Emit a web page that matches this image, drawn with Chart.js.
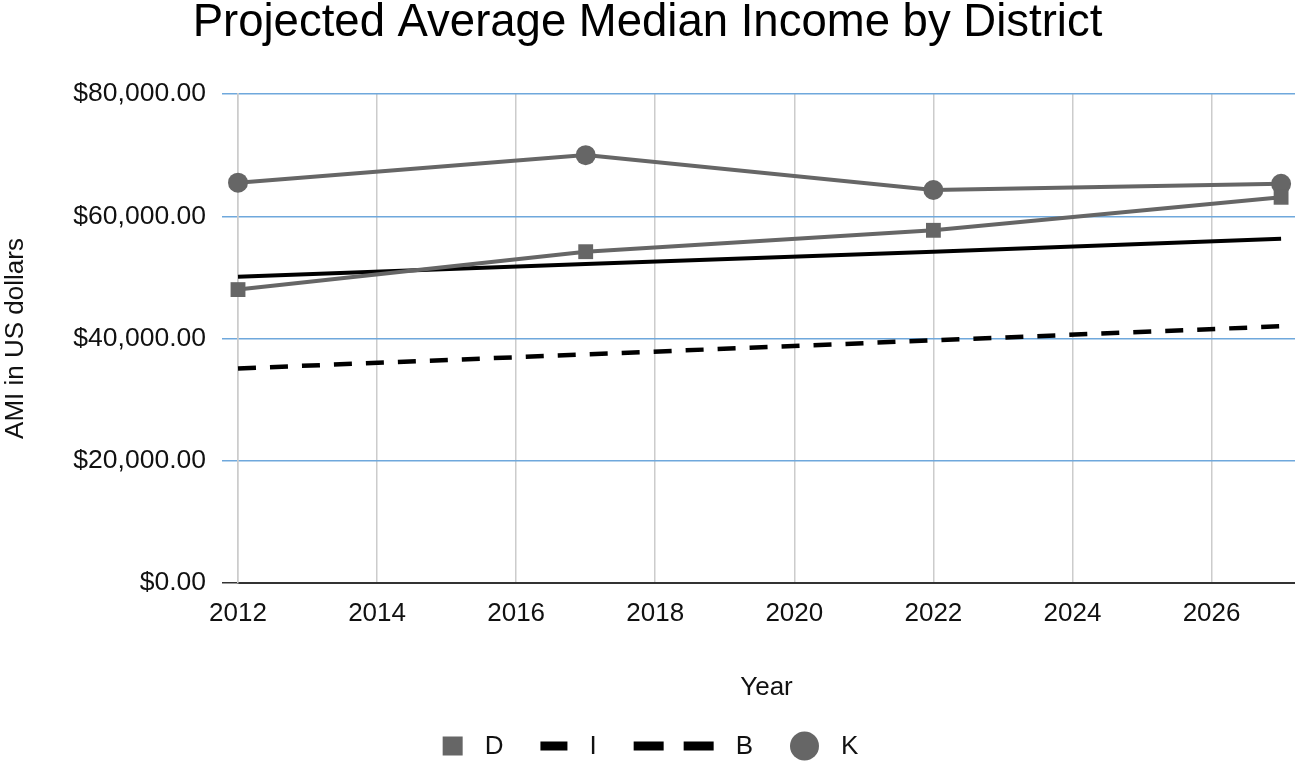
<!DOCTYPE html>
<html><head><meta charset="utf-8">
<script src="https://cdn.jsdelivr.net/npm/chart.js@4"></script>
<style>html,body{margin:0;padding:0;background:#fff}#wrap{width:1295px;height:762px}</style>
</head><body><div id="wrap"><canvas id="c" width="1295" height="762"></canvas></div>
<script>
const years = [2012, 2017, 2022, 2027];
const seriesD = [48000, 54200, 57700, 63100];
const seriesI = [50100, 52200, 54200, 56300];
const seriesB = [35100, 37400, 39700, 42000];
const seriesK = [65500, 70000, 64300, 65300];
const xTicks = [2012, 2014, 2016, 2018, 2020, 2022, 2024, 2026];
const yTicks = [0, 20000, 40000, 60000, 80000];
const seriesNames = ['D', 'I', 'B', 'K'];
const titleText = 'Projected Average Median Income by District';
const xTitle = 'Year';
const yTitle = 'AMI in US dollars';

const FONT = '"Liberation Sans", Arial, Helvetica, sans-serif';
const GRAY = '#666666';
const TEXT = '#111111';

function money(v) {
  const s = v.toFixed(2);
  const [i, d] = s.split('.');
  return '$' + i.replace(/\B(?=(\d{3})+(?!\d))/g, ',') + '.' + d;
}
function pts(vals) { return years.map((y, i) => ({x: y, y: vals[i]})); }

function drawIcon(ctx, type, x, y, w) {
  ctx.save();
  if (type === 'rect') {
    ctx.fillStyle = GRAY; ctx.fillRect(x, y - 9.5, w, 19);
  } else if (type === 'line') {
    ctx.fillStyle = '#000'; ctx.fillRect(x, y - 4.5, w, 9);
  } else if (type === 'dash') {
    ctx.fillStyle = '#000';
    ctx.fillRect(x, y - 4.5, 30, 9);
    ctx.fillRect(x + w - 30, y - 4.5, 30, 9);
  } else if (type === 'circle') {
    ctx.fillStyle = GRAY; ctx.beginPath(); ctx.arc(x + w / 2, y, w / 2, 0, Math.PI * 2); ctx.fill();
  }
  ctx.restore();
}

const legendPlugin = {
  id: 'bottomLegend',
  afterDraw(chart, args, opts) {
    const ctx = chart.ctx;
    ctx.save();
    ctx.font = '26px ' + FONT;
    ctx.textBaseline = 'middle';
    ctx.textAlign = 'left';
    const items = opts.items;
    let total = 0;
    items.forEach((it, i) => {
      it.tw = ctx.measureText(it.text).width;
      total += it.w + opts.gapIcon + it.tw + (i < items.length - 1 ? opts.gapItem : 0);
    });
    let x = (chart.width - total) / 2 + 3;
    items.forEach(it => {
      drawIcon(ctx, it.icon, x, opts.y, it.w);
      x += it.w + opts.gapIcon;
      ctx.fillStyle = TEXT;
      ctx.fillText(it.text, x, opts.y + 1);
      x += it.tw + opts.gapItem;
    });
    ctx.restore();
  }
};

new Chart(document.getElementById('c'), {
  type: 'line',
  data: {
    datasets: [
      {label: seriesNames[0], data: pts(seriesD), borderColor: GRAY, backgroundColor: GRAY, borderWidth: 4,
       pointStyle: 'rect', pointRadius: 10.5, pointBorderWidth: 0, tension: 0, clip: false},
      {label: seriesNames[1], data: pts(seriesI), borderColor: '#000', borderWidth: 4, pointRadius: 0, tension: 0, clip: false},
      {label: seriesNames[2], data: pts(seriesB), borderColor: '#000', borderWidth: 4.5, borderDash: [18, 14], pointRadius: 0, tension: 0, clip: false},
      {label: seriesNames[3], data: pts(seriesK), borderColor: GRAY, backgroundColor: GRAY, borderWidth: 4,
       pointStyle: 'circle', pointRadius: 10, pointBorderWidth: 0, tension: 0, clip: false}
    ]
  },
  options: {
    responsive: false,
    animation: false,
    devicePixelRatio: 1,
    layout: {autoPadding: false, padding: {left: 0, right: 0, top: 0, bottom: 59}},
    plugins: {
      legend: {display: false},
      tooltip: {enabled: false},
      title: {display: true, text: titleText, color: '#000',
        font: {family: FONT, size: 45.5, weight: 'normal', lineHeight: 1},
        padding: {top: 1, bottom: 47.5}},
      bottomLegend: {
        y: 746, gapIcon: 22, gapItem: 37,
        items: [
          {text: seriesNames[0], icon: 'rect', w: 20},
          {text: seriesNames[1], icon: 'line', w: 27},
          {text: seriesNames[2], icon: 'dash', w: 80},
          {text: seriesNames[3], icon: 'circle', w: 29}
        ]
      }
    },
    scales: {
      x: {
        type: 'linear', min: 2012, max: 2027.2,
        afterBuildTicks: s => { s.ticks = xTicks.map(v => ({value: v})); },
        afterFit: s => { s.height = 120; s.paddingRight = 0; s.paddingLeft = 0; },
        grid: {color: '#cccccc', lineWidth: 1.5, tickLength: 0, drawTicks: false},
        border: {color: '#333333', width: 2},
        ticks: {color: TEXT, font: {family: FONT, size: 26}, padding: 15, maxRotation: 0, autoSkip: false,
          callback: v => String(v)},
        title: {display: true, text: xTitle, color: TEXT, font: {family: FONT, size: 26, lineHeight: 1.2},
          padding: {top: 0, bottom: 0}}
      },
      y: {
        min: 0, max: 80000,
        afterBuildTicks: s => { s.ticks = yTicks.map(v => ({value: v})); },
        afterFit: s => { s.width = 238; },
        grid: {color: c => (c.tick && c.tick.value === 0) ? '#333333' : '#6fa8dc', lineWidth: 1.5, tickLength: 16},
        border: {color: '#cccccc', width: 1.5},
        ticks: {color: TEXT, font: {family: FONT, size: 26.5}, padding: 16, callback: v => money(v)},
        title: {display: true, text: yTitle, color: TEXT, font: {family: FONT, size: 26, lineHeight: 1.2},
          padding: {top: 0, bottom: 0}}
      }
    }
  },
  plugins: [legendPlugin]
});
</script>
</body></html>
